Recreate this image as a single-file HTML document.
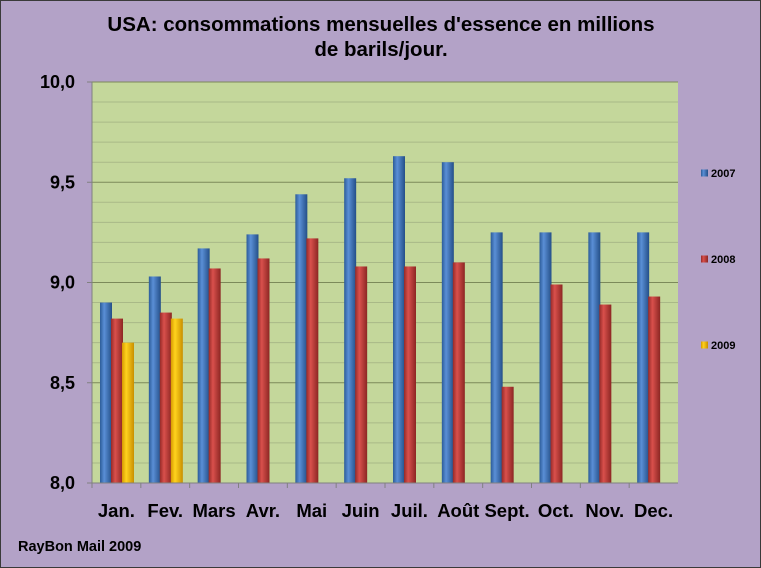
<!DOCTYPE html>
<html><head><meta charset="utf-8"><style>
body{margin:0;background:#fff}
svg{display:block;font-family:"Liberation Sans",Arial,sans-serif}
</style></head><body>
<svg id="c" width="761" height="568" xmlns="http://www.w3.org/2000/svg">
<defs>
<linearGradient id="g0" x1="0" x2="1"><stop offset="0" stop-color="#2c5c98"/><stop offset="0.35" stop-color="#5a8fd6"/><stop offset="1" stop-color="#244f88"/></linearGradient>
<linearGradient id="g1" x1="0" x2="1"><stop offset="0" stop-color="#962a28"/><stop offset="0.35" stop-color="#d9504c"/><stop offset="1" stop-color="#8c2623"/></linearGradient>
<linearGradient id="g2" x1="0" x2="1"><stop offset="0" stop-color="#d69a00"/><stop offset="0.35" stop-color="#ffd21e"/><stop offset="1" stop-color="#c98f00"/></linearGradient>
</defs>
<rect x="0.5" y="0.5" width="760" height="567" fill="#b3a2c7" stroke="#3a3a3a"/>
<text x="381" y="31" text-anchor="middle" font-size="20.5" font-weight="bold" fill="#000">USA: consommations mensuelles d'essence en millions</text>
<text x="381" y="56" text-anchor="middle" font-size="20.5" font-weight="bold" fill="#000">de barils/jour.</text>
<rect x="92" y="82" width="586" height="401" fill="#c4d79b"/>
<g id="grid"></g><g id="bars"></g><g id="axes"></g>
<text x="18" y="551" font-size="14.5" font-weight="bold" fill="#000">RayBon Mail 2009</text>
</svg>
<script>
const categories=["Jan.","Fev.","Mars","Avr.","Mai","Juin","Juil.","Août","Sept.","Oct.","Nov.","Dec."];
const seriesNames=["2007","2008","2009"];
const s2007=[8.90,9.03,9.17,9.24,9.44,9.52,9.63,9.60,9.25,9.25,9.25,9.25];
const s2008=[8.82,8.85,9.07,9.12,9.22,9.08,9.08,9.10,8.48,8.99,8.89,8.93];
const s2009=[8.70,8.82];
const yTicks=["8,0","8,5","9,0","9,5","10,0"];
const yTickVals=[8,8.5,9,9.5,10];
const NS="http://www.w3.org/2000/svg";
const L=92,R=678,T=82,B=483,ymin=8,ymax=10;
const y=v=>B-(v-ymin)/(ymax-ymin)*(B-T);
const cw=(R-L)/categories.length;
const x=i=>L+i*cw;
function mk(t,a,p){const e=document.createElementNS(NS,t);for(const k in a)e.setAttribute(k,a[k]);p.appendChild(e);return e;}
const grid=document.getElementById('grid'),bars=document.getElementById('bars'),axes=document.getElementById('axes');
for(let v=8.1;v<10;v+=0.1){const major=Math.abs(v*2-Math.round(v*2))<1e-6;
 const l=mk('line',{x1:L,x2:R,y1:y(v),y2:y(v),stroke:major?'#7c8a5a':'#a9b987','stroke-width':1},grid);
 
 }
const series=[s2007,s2008,s2009];
series.forEach((s,si)=>{s.forEach((v,i)=>{
 const bx=x(i)+8+si*11;
 const r=mk('rect',{x:bx,y:y(v),width:12,height:B-y(v),fill:'url(#g'+si+')'},bars);
 
 
});});
const ax=mk('line',{x1:L,x2:L,y1:T,y2:B,stroke:'#808080'},axes);

const bx=mk('line',{x1:L,x2:R,y1:B,y2:B,stroke:'#808080'},axes);

yTickVals.forEach((v,i)=>{
 const tk=mk('line',{x1:L-5,x2:L,y1:y(v),y2:y(v),stroke:'#808080'},axes);
 
 const t=mk('text',{x:L-17,y:y(v)+6,'text-anchor':'end','font-size':18,'font-weight':'bold',fill:'#000'},axes);
 t.textContent=yTicks[i];
 
 });
categories.forEach((c,i)=>{
 const tk=mk('line',{x1:x(i),x2:x(i),y1:B,y2:B+5,stroke:'#808080'},axes);
 
 const t=mk('text',{x:x(i)+cw/2,y:517,'text-anchor':'middle','font-size':18.5,'font-weight':'bold',fill:'#000'},axes);
 t.textContent=c;
 
 });
const legY=[173,259,345];
seriesNames.forEach((n,i)=>{
 const r=mk('rect',{x:701,y:legY[i]-3.5,width:7,height:7,fill:'url(#g'+i+')'},axes);
 
 const t=mk('text',{x:711,y:legY[i]+4,'font-size':11,'font-weight':'bold',fill:'#000'},axes);
 t.textContent=n;
 
 });
</script>
</body></html>
